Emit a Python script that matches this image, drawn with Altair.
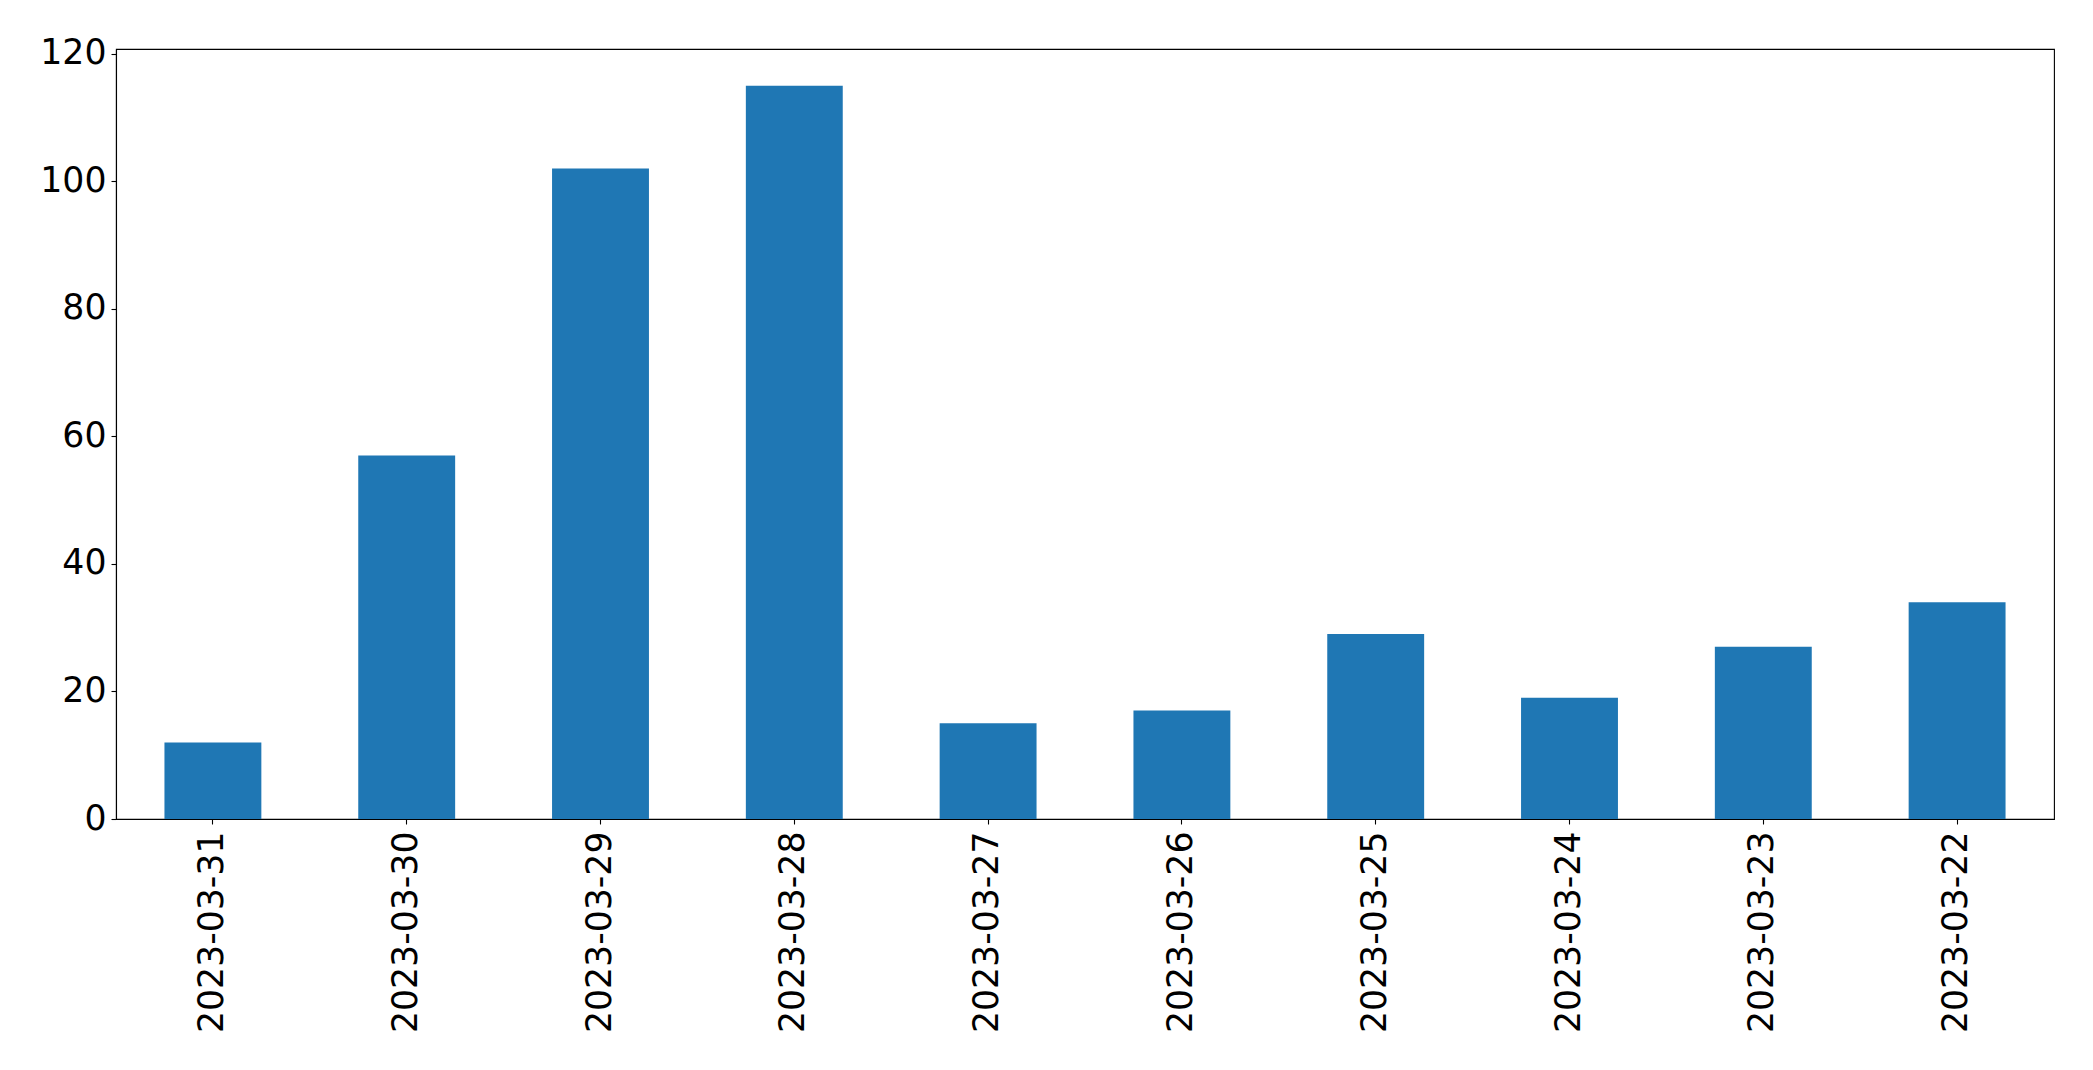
import altair as alt
import pandas as pd

dates = ["2023-03-31", "2023-03-30", "2023-03-29", "2023-03-28", "2023-03-27",
         "2023-03-26", "2023-03-25", "2023-03-24", "2023-03-23", "2023-03-22"]
counts = [12, 57, 102, 115, 15, 17, 29, 19, 27, 34]
y_ticks = [0, 20, 40, 60, 80, 100, 120]

df = pd.DataFrame({"date": dates, "count": counts})

FONT = "DejaVu Sans"

chart = alt.Chart(df).mark_bar(color="#1f77b4").encode(
    x=alt.X("date:N", sort=dates, title=None,
            scale=alt.Scale(paddingInner=0.5, paddingOuter=0.25),
            axis=alt.Axis(labelAngle=-90, labelAlign="right", labelBaseline="middle",
                          labelFontSize=34.7, labelFont=FONT, labelColor="black",
                          labelPadding=7, tickSize=5, tickWidth=1.1, tickColor="black",
                          domainColor="black", domainWidth=1.1, grid=False,
                          labelOverlap=False, labelLimit=1000)),
    y=alt.Y("count:Q", title=None,
            scale=alt.Scale(domain=[0, 120.75], nice=False, zero=True),
            axis=alt.Axis(values=y_ticks, labelFontSize=34.7, labelFont=FONT, labelColor="black",
                          labelPadding=5, tickSize=5, tickWidth=1.1, tickColor="black",
                          domainColor="black", domainWidth=1.1, grid=False)),
).properties(
    width=1938, height=770,
    autosize=alt.AutoSizeParams(type="none"),
    padding={"left": 108, "top": 41, "right": 31, "bottom": 243},
    background="white",
).configure_view(
    stroke="black", strokeWidth=1.1
)

chart.save("out.html", embed_options={"renderer": "svg", "actions": False})
